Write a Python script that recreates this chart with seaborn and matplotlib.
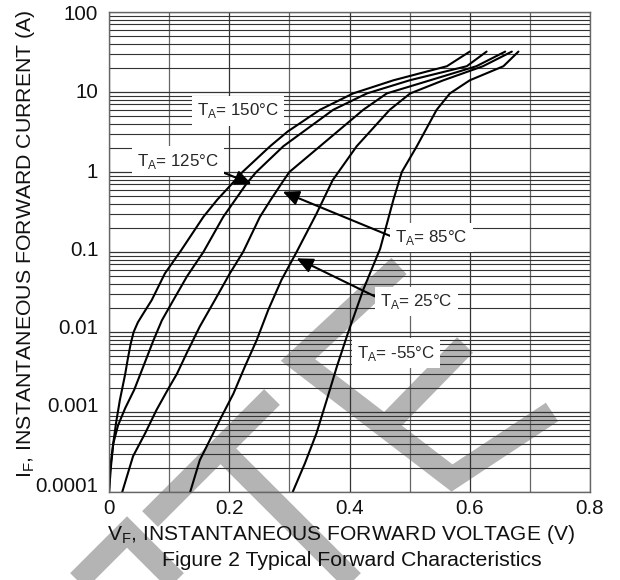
import numpy as np
import pandas as pd
import matplotlib
matplotlib.use("Agg")
import matplotlib.pyplot as plt
import matplotlib.ticker as mticker
from matplotlib.lines import Line2D
from matplotlib.transforms import Affine2D, ScaledTranslation
import seaborn as sns

# forward voltage (V) / forward current (A)
v_150 = [0.0, 0.0033, 0.0072, 0.0116, 0.018, 0.027, 0.031, 0.036, 0.041, 0.048, 0.057, 0.071,
         0.093, 0.12, 0.157, 0.18, 0.205, 0.222, 0.268, 0.297, 0.351, 0.406, 0.473, 0.562, 0.600]
i_150 = [1e-4, 2.1e-4, 4.1e-4, 7.2e-4, 1.4e-3, 3.0e-3, 4.5e-3, 7.1e-3, 0.010, 0.0132, 0.017, 0.025,
         0.054, 0.105, 0.275, 0.45, 0.72, 1.0, 2.1, 3.2, 6.0, 9.6, 14, 21, 32]

v_125 = [0.0, 0.002, 0.007, 0.015, 0.027, 0.042, 0.057, 0.074, 0.088, 0.107, 0.13, 0.157,
         0.19, 0.21, 0.229, 0.245, 0.29, 0.373, 0.429, 0.50, 0.595, 0.628]
i_125 = [1e-4, 2e-4, 4e-4, 6.8e-4, 1.12e-3, 1.9e-3, 3.7e-3, 7.9e-3, 0.014, 0.025, 0.05, 0.10,
         0.275, 0.45, 0.72, 1.0, 2.1, 6.0, 9.6, 14, 21, 32]

v_85 = [0.022, 0.040, 0.060, 0.079, 0.101, 0.113, 0.129, 0.151, 0.176, 0.201, 0.223, 0.251,
        0.269, 0.287, 0.300, 0.351, 0.423, 0.462, 0.534, 0.611, 0.659]
i_85 = [1e-4, 2.8e-4, 5.4e-4, 1.06e-3, 2.1e-3, 3.0e-3, 5.4e-3, 0.0117, 0.025, 0.054, 0.10, 0.275,
        0.45, 0.72, 1.0, 2.1, 6.0, 9.6, 14, 21, 32]

v_25 = [0.135, 0.151, 0.168, 0.187, 0.207, 0.226, 0.2456, 0.265, 0.287, 0.312, 0.345, 0.372,
        0.412, 0.467, 0.501, 0.556, 0.622, 0.670]
i_25 = [1e-4, 2.5e-4, 4.5e-4, 8.7e-4, 1.7e-3, 3.7e-3, 7.9e-3, 0.019, 0.045, 0.10, 0.30, 0.79,
        2.1, 6.0, 9.6, 14, 21, 32]

v_m55 = [0.3055, 0.326, 0.345, 0.362, 0.379, 0.398, 0.423, 0.451, 0.473, 0.487, 0.512, 0.545,
         0.567, 0.600, 0.656, 0.681]
i_m55 = [1e-4, 2.3e-4, 5.4e-4, 1.4e-3, 3.7e-3, 0.010, 0.034, 0.11, 0.45, 1.0, 2.1, 6.0,
         9.6, 14, 21, 32]

temps = ["150", "125", "85", "25", "-55"]
x_ticks = [0, 0.2, 0.4, 0.6, 0.8]
x_labels = ["0", "0.2", "0.4", "0.6", "0.8"]
y_ticks = [1e-4, 1e-3, 1e-2, 1e-1, 1, 10, 100]
y_labels = ["0.0001", "0.001", "0.01", "0.1", "1", "10", "100"]

curves = {"150": (v_150, i_150), "125": (v_125, i_125), "85": (v_85, i_85),
          "25": (v_25, i_25), "-55": (v_m55, i_m55)}
df = pd.concat([pd.DataFrame({"V": v, "I": i, "T": t}) for t, (v, i) in curves.items()],
               ignore_index=True)

sns.set_style("white")
plt.rcParams["font.family"] = ["Liberation Sans", "DejaVu Sans"]
plt.rcParams["mathtext.fontset"] = "custom"
plt.rcParams["mathtext.rm"] = "Liberation Sans"

fig = plt.figure(figsize=(6.2, 5.8), dpi=100)
ax = fig.add_axes([109 / 620, 1 - 492 / 580, 481 / 620, 480 / 580])
ax.set_yscale("log")

# TE watermark, drawn in image pixel coords behind the grid
px = Affine2D().scale(1 / 620, -1 / 580).translate(0, 1) + fig.transFigure
wm_strokes = [
    [(62, 597), (127, 532), (190, 595)],
    [(150, 519), (272, 397)],
    [(222, 450), (362, 590)],
    [(399, 266), (298, 360), (452, 478), (552, 412)],
    [(386, 426), (465, 345)],
]
for s in wm_strokes:
    xs, ys = zip(*s)
    ax.add_artist(Line2D(xs, ys, transform=px, color="#b4b4b4", lw=16,
                         solid_joinstyle="miter", solid_capstyle="butt",
                         clip_on=False, zorder=0.3))

sns.lineplot(data=df, x="V", y="I", hue="T", hue_order=temps, palette=["black"] * 5,
             sort=False, estimator=None, legend=False, lw=1.5, ax=ax, zorder=2)

ax.set_xlim(0, 0.8)
ax.set_ylim(1e-4, 100)
ax.set_xticks(x_ticks)
ax.set_xticklabels(x_labels)
ax.set_xticks([0.1, 0.3, 0.5, 0.7], minor=True)
ax.yaxis.set_major_locator(mticker.FixedLocator(y_ticks))
ax.yaxis.set_major_formatter(mticker.FixedFormatter(y_labels))
ax.yaxis.set_minor_locator(mticker.LogLocator(base=10, subs=np.arange(2, 10), numticks=20))
ax.yaxis.set_minor_formatter(mticker.NullFormatter())
ax.tick_params(which="both", length=0, labelsize=14.8, colors="#111111")
ax.tick_params(axis="x", pad=5)
ax.tick_params(axis="y", pad=7.7)

ax.grid(True, which="major", axis="both", color="#333333", lw=0.9)
ax.grid(True, which="minor", axis="y", color="#333333", lw=0.8)
ax.grid(True, which="minor", axis="x", color="#666666", lw=0.9)
for sp in ax.spines.values():
    sp.set_color("#666666")
    sp.set_linewidth(1.0)

# y tick labels sit a little above their lines in the original
lift_px = [8, 7, 5, 3, 2, 2, 0]
for lbl, d in zip(ax.get_yticklabels(), lift_px):
    lbl.set_transform(lbl.get_transform() + ScaledTranslation(0, d / 100, fig.dpi_scale_trans))

ax.set_xlabel(r"V$_{\mathregular{F}}$, INSTANTANEOUS FORWARD VOLTAGE (V)", fontsize=15.1,
              color="#111111")
ax.xaxis.set_label_coords(0.483, -0.064)
ax.set_ylabel(r"I$_{\mathregular{F}}$, INSTANTANEOUS FORWARD CURRENT (A)", fontsize=15.3,
              color="#111111")
ax.yaxis.set_label_coords(-0.149, 0.517)
fig.text(352 / 620, 1 - 560 / 580, "Figure 2 Typical Forward Characteristics",
         ha="center", va="center", fontsize=15.3, color="#111111")

box = dict(boxstyle="square,pad=0.3", fc="white", ec="none")
arrow = dict(arrowstyle="-|>,head_length=0.7,head_width=0.32", mutation_scale=14,
             lw=1.5, color="black", shrinkA=0, shrinkB=0)
lab_fs = 12.2


def ta(t):
    return r"T$_{\mathregular{A}}$= " + t + "°C"


ax.text(0.146, 5.8, ta("150"), ha="left", va="center", fontsize=lab_fs, bbox=box, zorder=4)
ax.annotate(ta("125"), xy=(0.237, 0.71), xytext=(0.046, 1.37), ha="left", va="center",
            fontsize=lab_fs, bbox=box, zorder=4,
            arrowprops=dict(arrow, relpos=(1, 0)))
ax.annotate(ta("85"), xy=(0.289, 0.567), xytext=(0.4757, 0.15), ha="left", va="center",
            fontsize=lab_fs, bbox=box, zorder=4,
            arrowprops=dict(arrow, relpos=(0, 0.5)))
ax.annotate(ta("25"), xy=(0.312, 0.0834), xytext=(0.4507, 0.0239), ha="left", va="center",
            fontsize=lab_fs, bbox=box, zorder=4,
            arrowprops=dict(arrow, relpos=(0, 0.65)))
ax.text(0.412, 0.00546, ta("-55"), ha="left", va="center", fontsize=lab_fs, bbox=box, zorder=4)

fig.savefig("out.png", dpi=100)
